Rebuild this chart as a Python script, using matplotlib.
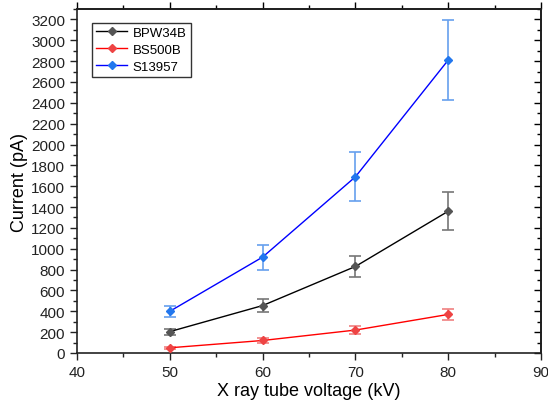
import matplotlib
matplotlib.use("Agg")
import matplotlib.pyplot as plt
from matplotlib.ticker import MultipleLocator

plt.rcParams['font.family'] = ['Liberation Sans', 'DejaVu Sans']

voltage = [50, 60, 70, 80]
bpw34b = [205, 455, 830, 1360]
bpw34b_err = [30, 60, 105, 180]
bs500b = [50, 120, 220, 370]
bs500b_err = [12, 22, 35, 50]
s13957 = [400, 920, 1690, 2810]
s13957_err = [50, 120, 235, 380]

fig = plt.figure(figsize=(5.48, 4.06), dpi=100)
ax = fig.add_axes([77/548, 52/406, 464/548, 344/406])

series = [
    ("BPW34B", bpw34b, bpw34b_err, "black", "#555555", "#777777"),
    ("BS500B", bs500b, bs500b_err, "red", "#ee4444", "#f08080"),
    ("S13957", s13957, s13957_err, "blue", "#2277ee", "#66a0ee"),
]
for name, y, e, lc, mc, ec in series:
    ax.errorbar(voltage, y, yerr=e, fmt='none', ecolor=ec, elinewidth=1.2,
                capsize=4, capthick=1.2, zorder=2)
    ax.plot(voltage, y, color=lc, lw=1, marker='D', markersize=4,
            markerfacecolor=mc, markeredgecolor=mc, label=name, zorder=3)

ax.set_xlim(40, 90)
ax.set_ylim(0, 3300)
ax.xaxis.set_major_locator(MultipleLocator(10))
ax.xaxis.set_minor_locator(MultipleLocator(5))
ax.yaxis.set_major_locator(MultipleLocator(200))
ax.yaxis.set_minor_locator(MultipleLocator(100))
ax.tick_params(which='both', direction='out', labelsize=11, width=1, colors='#222222')
ax.tick_params(which='major', length=5)
ax.tick_params(which='minor', length=3)
for s in ax.spines.values():
    s.set_linewidth(1.2)
    s.set_color('#222222')

sy = ax.secondary_yaxis('right')
sy.yaxis.set_major_locator(MultipleLocator(200))
sy.yaxis.set_minor_locator(MultipleLocator(100))
sy.tick_params(which='both', direction='in', labelright=False, width=1)
sy.tick_params(which='major', length=5)
sy.tick_params(which='minor', length=3)
sy.spines['right'].set_linewidth(1.2)

sx = ax.secondary_xaxis('top')
sx.xaxis.set_major_locator(MultipleLocator(10))
sx.xaxis.set_minor_locator(MultipleLocator(5))
sx.tick_params(which='both', direction='out', labeltop=False, width=1)
sx.tick_params(which='major', length=5)
sx.tick_params(which='minor', length=3)
sx.spines['top'].set_linewidth(1.2)

ax.set_xlabel("X ray tube voltage (kV)", fontsize=13, labelpad=2)
ax.set_ylabel("Current (pA)", fontsize=13, labelpad=2)

leg = ax.legend(loc='upper left', bbox_to_anchor=(0.032, 0.96), fontsize=9.5,
                frameon=True, fancybox=False, edgecolor='black', borderaxespad=0,
                handlelength=2.4, borderpad=0.3, labelspacing=0.35, handletextpad=0.4)
leg.get_frame().set_linewidth(1)

fig.savefig("out.png", dpi=100)
